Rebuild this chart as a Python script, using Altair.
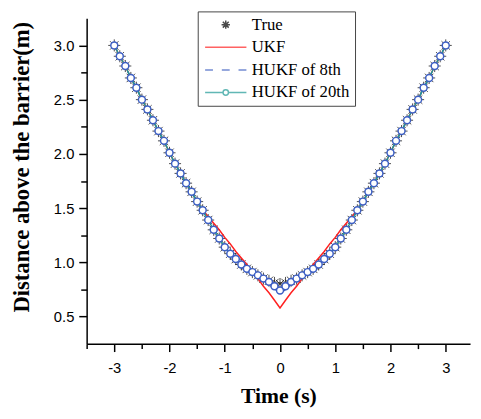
import altair as alt
import pandas as pd

time = [-3.0, -2.9, -2.8, -2.7, -2.6, -2.5, -2.4, -2.3, -2.2, -2.1,
        -2.0, -1.9, -1.8, -1.7, -1.6, -1.5, -1.4, -1.3, -1.2, -1.1,
        -1.0, -0.9, -0.8, -0.7, -0.6, -0.5, -0.4, -0.3, -0.2, -0.1,
        0.0,
        0.1, 0.2, 0.3, 0.4, 0.5, 0.6, 0.7, 0.8, 0.9, 1.0,
        1.1, 1.2, 1.3, 1.4, 1.5, 1.6, 1.7, 1.8, 1.9, 2.0,
        2.1, 2.2, 2.3, 2.4, 2.5, 2.6, 2.7, 2.8, 2.9, 3.0]

true_y = [3.00, 2.90, 2.81, 2.70, 2.61, 2.50, 2.41, 2.31, 2.21, 2.12,
          2.01, 1.91, 1.82, 1.73, 1.65, 1.56, 1.48, 1.39, 1.30, 1.22,
          1.14, 1.08, 1.03, 0.98, 0.94, 0.91, 0.88, 0.85, 0.83, 0.81,
          0.80,
          0.81, 0.83, 0.85, 0.88, 0.91, 0.94, 0.98, 1.03, 1.08, 1.14,
          1.22, 1.30, 1.39, 1.48, 1.56, 1.65, 1.73, 1.82, 1.91, 2.01,
          2.12, 2.21, 2.31, 2.41, 2.50, 2.61, 2.70, 2.81, 2.90, 3.00]

ukf_y = [3.00, 2.90, 2.81, 2.70, 2.61, 2.50, 2.41, 2.31, 2.21, 2.12,
         2.01, 1.91, 1.82, 1.73, 1.65, 1.56, 1.48, 1.42, 1.36, 1.30,
         1.23, 1.17, 1.10, 1.04, 0.98, 0.91, 0.85, 0.78, 0.72, 0.65,
         0.58,
         0.65, 0.72, 0.78, 0.85, 0.91, 0.98, 1.04, 1.10, 1.17, 1.23,
         1.30, 1.36, 1.42, 1.48, 1.56, 1.65, 1.73, 1.82, 1.91, 2.01,
         2.12, 2.21, 2.31, 2.41, 2.50, 2.61, 2.70, 2.81, 2.90, 3.00]

hukf8_y = [3.00, 2.90, 2.81, 2.70, 2.61, 2.50, 2.41, 2.31, 2.21, 2.12,
           2.01, 1.91, 1.82, 1.73, 1.65, 1.56, 1.48, 1.39, 1.30, 1.22,
           1.14, 1.08, 1.03, 0.98, 0.94, 0.91, 0.88, 0.85, 0.81, 0.76,
           0.71,
           0.75, 0.80, 0.85, 0.88, 0.91, 0.94, 0.98, 1.03, 1.08, 1.14,
           1.22, 1.30, 1.39, 1.48, 1.56, 1.65, 1.73, 1.82, 1.91, 2.01,
           2.12, 2.21, 2.31, 2.41, 2.50, 2.61, 2.70, 2.81, 2.90, 3.00]

hukf20_y = [3.00, 2.90, 2.81, 2.70, 2.61, 2.50, 2.41, 2.31, 2.21, 2.12,
            2.01, 1.91, 1.82, 1.73, 1.65, 1.56, 1.48, 1.39, 1.30, 1.22,
            1.14, 1.08, 1.03, 0.98, 0.94, 0.91, 0.88, 0.85, 0.82, 0.78,
            0.74,
            0.78, 0.82, 0.85, 0.88, 0.91, 0.94, 0.98, 1.03, 1.08, 1.14,
            1.22, 1.30, 1.39, 1.48, 1.56, 1.65, 1.73, 1.82, 1.91, 2.01,
            2.12, 2.21, 2.31, 2.41, 2.50, 2.61, 2.70, 2.81, 2.90, 3.00]

series_names = ["True", "UKF", "HUKF of 8th", "HUKF of 20th"]
series_colors = ["#000000", "#ff2020", "#3a5cc0", "#1f9a96"]

x_major_ticks = [-3, -2, -1, 0, 1, 2, 3]
x_minor_ticks = [-3.5, -2.5, -1.5, -0.5, 0.5, 1.5, 2.5]
y_major_ticks = [0.5, 1.0, 1.5, 2.0, 2.5, 3.0]
y_minor_ticks = [0.75, 1.25, 1.75, 2.25, 2.75]

ASTER = "M -1 0 L 1 0 M 0 -1 L 0 1 M -0.7 -0.7 L 0.7 0.7 M -0.7 0.7 L 0.7 -0.7"
LEG_ASTER = "M -0.85 0 L 0.85 0 M 0 -0.85 L 0 0.85 M -0.6 -0.6 L 0.6 0.6 M -0.6 0.6 L 0.6 -0.6"
LEG_LINE = "M -4.2 0 L 4.2 0"
LEG_DASH = "M -4.2 0 L -2.6 0 M -0.8 0 L 0.8 0 M 2.6 0 L 4.2 0"
LEG_CIRC = ("M -4.2 0 L -0.55 0 M 0.55 0 L 4.2 0 "
            "M 0.55 0 A 0.55 0.55 0 1 1 -0.55 0 A 0.55 0.55 0 1 1 0.55 0")
legend_shapes = [LEG_ASTER, LEG_LINE, LEG_DASH, LEG_CIRC]

df = pd.DataFrame({"t": time, "true": true_y, "ukf": ukf_y,
                   "h8": hukf8_y, "h20": hukf20_y})
leg_df = pd.DataFrame({"series": series_names, "t": [0.0] * 4, "v": [1.0] * 4})

xs = alt.Scale(domain=[-3.5, 3.44], nice=False, zero=False)
ys = alt.Scale(domain=[0.25, 3.25], nice=False, zero=False)

x_major = alt.Axis(values=x_major_ticks, labelExpr="toString(datum.value)",
                   tickSize=8, labelPadding=9,
                   title="Time (s)", titleY=60, titleBaseline="alphabetic",
                   orient="bottom")
y_major = alt.Axis(values=y_major_ticks, format=".1f", tickSize=8, labelPadding=5,
                   title="Distance above the barrier(m)", titleX=-59, titleY=151,
                   titleFontSize=23,
                   titleBaseline="alphabetic", titleAngle=270, orient="left")
x_minor = alt.Axis(values=x_minor_ticks, tickSize=5, labels=False, domain=False,
                   title=None, orient="bottom")
y_minor = alt.Axis(values=y_minor_ticks, tickSize=6, labels=False, domain=False,
                   title=None, orient="left")

base = alt.Chart(df)

true_layer = base.mark_point(shape=ASTER, size=150, filled=False, color="black",
                             strokeWidth=1).encode(
    x=alt.X("t:Q", scale=xs, axis=x_major),
    y=alt.Y("true:Q", scale=ys, axis=y_major),
)
ukf_layer = base.mark_line(color=series_colors[1], strokeWidth=1.5).encode(
    x=alt.X("t:Q", scale=xs, axis=None),
    y=alt.Y("ukf:Q", scale=ys, axis=None),
)
h8_layer = base.mark_line(color=series_colors[2], strokeWidth=1.5,
                          strokeDash=[6, 4]).encode(
    x=alt.X("t:Q", scale=xs, axis=None),
    y=alt.Y("h8:Q", scale=ys, axis=None),
)
h20_line = base.mark_line(color=series_colors[3], strokeWidth=1.5).encode(
    x=alt.X("t:Q", scale=xs, axis=None),
    y=alt.Y("h20:Q", scale=ys, axis=None),
)
h20_pts = base.mark_point(shape="circle", size=50, filled=True, fill="white",
                          stroke="#3d5fc4", strokeWidth=1.5, opacity=1).encode(
    x=alt.X("t:Q", scale=xs, axis=None),
    y=alt.Y("h20:Q", scale=ys, axis=None),
)

leg = alt.Legend(title=None, orient="none", legendX=113, legendY=-7,
                 symbolSize=100, symbolStrokeWidth=1.5, symbolOffset=15,
                 labelOffset=18, labelFont="Liberation Serif", labelFontSize=17,
                 labelColor="black", padding=5, rowPadding=5,
                 strokeColor="#444444", fillColor="white")

legend_layer = alt.Chart(leg_df).transform_filter("false").mark_point(
    filled=False, strokeWidth=1.5).encode(
    x=alt.X("t:Q", scale=xs, axis=x_minor),
    y=alt.Y("v:Q", scale=ys, axis=y_minor),
    color=alt.Color("series:N", scale=alt.Scale(domain=series_names,
                                                range=series_colors), legend=leg),
    shape=alt.Shape("series:N", scale=alt.Scale(domain=series_names,
                                                range=legend_shapes), legend=leg),
)

chart = alt.layer(true_layer, ukf_layer, h8_layer, h20_line, h20_pts,
                  legend_layer).resolve_axis(
    x="independent", y="independent"
).properties(
    width=390, height=331,
    autosize=alt.AutoSizeParams(type="none"),
    padding={"left": 80, "top": 7, "right": 3, "bottom": 65},
).configure_view(stroke=None).configure_axis(
    grid=False, domainColor="black", domainWidth=1.5, tickColor="black",
    tickWidth=1.5, labelColor="black", labelFont="Liberation Sans",
    labelFontSize=15, titleFont="Liberation Serif", titleFontSize=22,
    titleFontWeight="bold", titleColor="black",
)

chart.save("out.html", embed_options={"renderer": "svg", "actions": False})
